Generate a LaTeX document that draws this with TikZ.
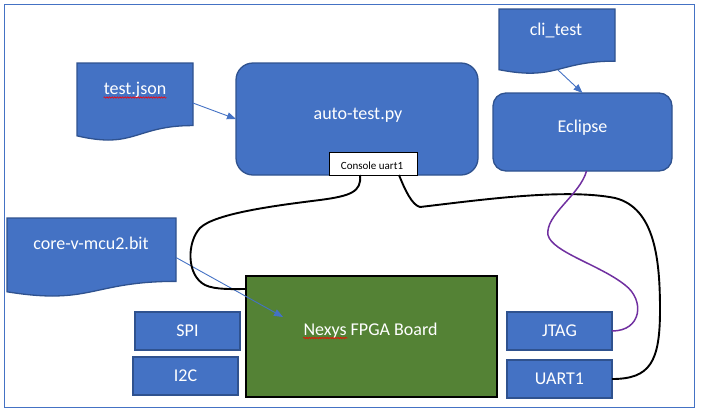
\documentclass[tikz,border=0pt]{standalone}
\usepackage{fontspec}
\setmainfont{Carlito}
\usetikzlibrary{arrows.meta,calc,decorations.pathmorphing}
\definecolor{bfill}{HTML}{4472C4}
\definecolor{bdraw}{HTML}{2F528F}
\definecolor{gfill}{HTML}{548235}
\definecolor{purp}{HTML}{7030A0}
\newcommand\mydocshape[1]{%
  \draw[docline] (#1.north west) -- (#1.north east)
    -- ($(#1.north east)!0.802!(#1.south east)$)
    .. controls ($(#1.north)!0.802!(#1.south)$) and ($(#1.north)!1.1075!(#1.south)$)
    .. ($(#1.north west)!0.934!(#1.south west)$) -- cycle;}
\begin{document}
\begin{tikzpicture}[x=1pt,y=-1pt,
  bigfont/.style={font=\fontsize{18}{20}\selectfont},
  box/.style={draw=bdraw,fill=bfill,line width=1.3pt,inner sep=0pt,outer sep=0pt,text=white,bigfont},
  docarea/.style={inner sep=0pt,outer sep=0pt},
  docline/.style={draw=bdraw,fill=bfill,line width=1.3pt},
  lbl/.style={text=white,bigfont,inner sep=0pt,anchor=base},
  flowarrow/.style={draw=bfill,line width=0.9pt,-{Triangle[length=9pt,width=7pt]}},
  wire/.style={draw=black,line width=1.9pt},
  jwire/.style={draw=purp,line width=1.5pt},
  squiggle/.style={draw=red,line width=0.6pt,decorate,decoration={snake,amplitude=0.7pt,segment length=2.6pt}}
]
\useasboundingbox (0,0) rectangle (701,413);
\draw[bfill,line width=1pt] (4.5,4.5) rectangle (694,407);

% document shapes
\node[docarea,minimum width=116pt,minimum height=78pt] (tj) at (135,102) {};
\mydocshape{tj}
\node[lbl] (tjt) at (135,94.5) {test.json};
\draw[squiggle] ($(tjt.base west)+(0,3)$) -- ($(tjt.base east)+(0,3)$);

\node[docarea,minimum width=116pt,minimum height=65pt] (cli) at (557,41.5) {};
\mydocshape{cli}
\node[lbl] (clit) at (556,35) {cli\_test};

\node[docarea,minimum width=169pt,minimum height=79pt] (bit) at (91.5,257.5) {};
\mydocshape{bit}
\node[lbl] (bitt) at (91,249) {core-v-mcu2.bit};

% main boxes
\node[box,rounded corners=17pt,minimum width=242pt,minimum height=112pt] (auto) at (357,119) {};
\node[lbl] (autot) at (358,119.5) {auto-test.py};
\node[draw=black,fill=white,line width=0.8pt,inner sep=0pt,outer sep=0pt,minimum width=88pt,minimum height=23pt] (console) at (373,163.5) {};
\node[inner sep=0pt,anchor=base,font=\fontsize{11}{13}\selectfont] (consolet) at (372,169) {Console uart1};

\node[box,rounded corners=13pt,minimum width=179pt,minimum height=78pt] (ecl) at (582.5,132) {};
\node[lbl] (eclt) at (582.5,132) {Eclipse};

\node[draw=black,fill=gfill,line width=1.2pt,inner sep=0pt,outer sep=0pt,minimum width=251pt,minimum height=121pt] (nexys) at (371.5,336.5) {};
\node[lbl] (nexyst) at (370.5,335) {Nexys FPGA Board};
\draw[squiggle] ($(nexyst.base west)+(0,3)$) -- ++(44,0);

\node[box,minimum width=105pt,minimum height=38pt] (spi) at (187.5,331) {SPI};
\node[box,minimum width=105pt,minimum height=38pt] (i2c) at (185.5,376) {I2C};
\node[box,minimum width=105pt,minimum height=38pt] (jtag) at (559.5,331) {JTAG};
\node[box,minimum width=105pt,minimum height=38pt] (uart) at (559.5,379) {UART1};

% arrows
\draw[flowarrow] ($(tj.east)+(0,1)$) -- (auto.west);
\draw[flowarrow] ($(cli.south)+(1,-4)$) -- (ecl.north);
\draw[flowarrow] (bit.east) -- ($(nexys.north west)+(37,41)$);

% cables
\draw[wire] ($(console.south)+(-13,0)$) .. controls (362,192) and (350,196) .. (320,200)
  .. controls (280,205) and (215,213) .. (200,228)
  .. controls (187,242) and (186,275) .. (205,285)
  .. controls (215,290) and (235,289) .. ($(nexys.north west)+(0,13)$);
\draw[wire] ($(console.south)+(26,0)$) .. controls (405,190) and (412,205) .. (420,207)
  .. controls (480,200) and (565,188) .. (615,198)
  .. controls (655,208) and (660,260) .. (660,310)
  .. controls (660,362) and (650,379) .. (uart.east);
\draw[jwire] ($(ecl.south)+(4,0)$) .. controls (580,195) and (545,215) .. (548,235)
  .. controls (552,252) and (600,265) .. (625,285)
  .. controls (645,300) and (642,331) .. (jtag.east);
\end{tikzpicture}
\end{document}
